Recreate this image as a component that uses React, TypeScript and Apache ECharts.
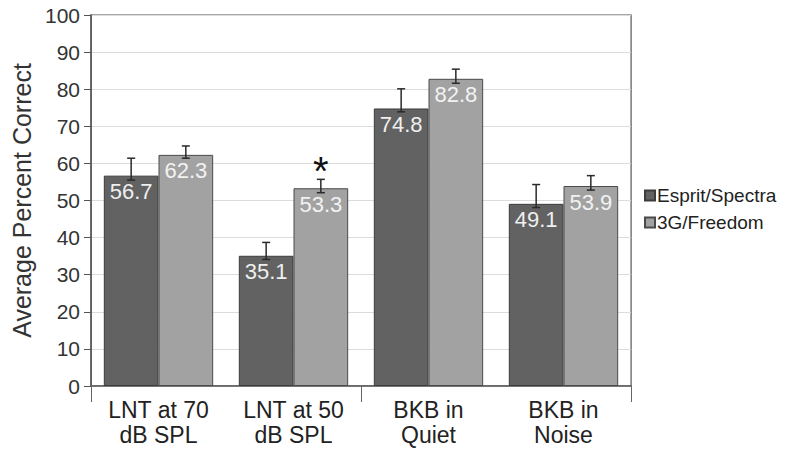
import React, { useEffect, useRef } from "react";
import * as echarts from "echarts";

const categories = ["LNT at 70\ndB SPL", "LNT at 50\ndB SPL", "BKB in\nQuiet", "BKB in\nNoise"];
const seriesNames = ["Esprit/Spectra", "3G/Freedom"];
const espritValues = [56.7, 35.1, 74.8, 49.1];
const freedomValues = [62.3, 53.3, 82.8, 53.9];
const espritErrLow = [55.5, 34.1, 73.9, 48.1];
const espritErrHigh = [61.4, 38.7, 80.1, 54.3];
const freedomErrLow = [61.4, 52.1, 81.6, 52.8];
const freedomErrHigh = [64.7, 55.7, 85.4, 56.7];
const freedomSignificant = [0, 1, 0, 0];
const yMin = 0;
const yMax = 100;
const yInterval = 10;

const FONT = "'Liberation Sans', Arial, sans-serif";
const GAP_RATIO = 0.19;

export default function App() {
  const ref = useRef<HTMLDivElement>(null);
  useEffect(() => {
    if (!ref.current) return;
    const chart = echarts.init(ref.current, undefined, { renderer: "svg" });
    const errData: number[][] = [];
    categories.forEach((_, i) => {
      errData.push([i, espritErrLow[i], espritErrHigh[i], 0, 0]);
      errData.push([i, freedomErrLow[i], freedomErrHigh[i], 1, freedomSignificant[i]]);
    });
    const option: any = {
      animation: false,
      backgroundColor: "#ffffff",
      textStyle: { fontFamily: FONT },
      grid: {
        left: 91,
        right: 157,
        top: 15,
        bottom: 65,
        show: true,
        borderColor: "#8a8a8a",
        borderWidth: 1.5,
      },
      legend: {
        orient: "vertical",
        left: 639,
        top: 181,
        data: seriesNames,
        icon: "rect",
        itemWidth: 10,
        itemHeight: 10,
        itemGap: 8,
        textStyle: { fontSize: 19, color: "#222", fontFamily: FONT, padding: [0, 0, 0, -3] },
      },
      xAxis: {
        type: "category",
        data: categories,
        axisLine: { lineStyle: { color: "#555", width: 1.5 } },
        axisTick: {
          show: true,
          interval: (i: number) => i === 0 || i === 2,
          length: 16,
          lineStyle: { color: "#666", width: 1 },
        },
        splitLine: {
          show: true,
          interval: (i: number) => i === 2,
          lineStyle: { color: "#8a8a8a", width: 1 },
        },
        axisLabel: {
          fontSize: 23,
          lineHeight: 25,
          margin: 11,
          color: "#222",
          fontFamily: FONT,
          interval: 0,
        },
      },
      yAxis: {
        type: "value",
        min: yMin,
        max: yMax,
        interval: yInterval,
        name: "Average Percent Correct",
        nameLocation: "middle",
        nameGap: 56,
        nameTextStyle: { fontSize: 25, color: "#333", fontFamily: FONT },
        axisLine: { show: true, lineStyle: { color: "#555", width: 1.5 } },
        axisTick: { show: true, length: 7, lineStyle: { color: "#555" } },
        axisLabel: { fontSize: 21, color: "#333", margin: 11, fontFamily: FONT },
        splitLine: { lineStyle: { color: "#dcdcdc", width: 1 } },
      },
      series: [
        {
          name: seriesNames[0],
          type: "bar",
          data: espritValues,
          barGap: "0%",
          barCategoryGap: GAP_RATIO * 100 + "%",
          itemStyle: { color: "#626262", borderColor: "#3c3c3c", borderWidth: 1 },
          label: {
            show: true,
            position: "insideTop",
            distance: 5,
            color: "#efefef",
            fontSize: 22,
            fontFamily: FONT,
          },
        },
        {
          name: seriesNames[1],
          type: "bar",
          data: freedomValues,
          barGap: "0%",
          barCategoryGap: GAP_RATIO * 100 + "%",
          itemStyle: { color: "#a2a2a2", borderColor: "#4a4a4a", borderWidth: 1 },
          label: {
            show: true,
            position: "insideTop",
            distance: 5,
            color: "#f2f2f2",
            fontSize: 22,
            fontFamily: FONT,
          },
        },
        {
          type: "custom",
          z: 10,
          data: errData,
          encode: { x: 0, y: [1, 2] },
          renderItem: (params: any, api: any) => {
            const ci = api.value(0);
            const lo = api.value(1);
            const hi = api.value(2);
            const side = api.value(3);
            const sig = api.value(4);
            const catW = api.size([1, 0])[0];
            const bw = (catW * (1 - GAP_RATIO)) / 2;
            const cx = api.coord([ci, 0])[0] + (side === 0 ? -bw / 2 : bw / 2);
            const yLo = api.coord([ci, lo])[1];
            const yHi = api.coord([ci, hi])[1];
            const cap = 4;
            const ls = { stroke: "#2a2a2a", lineWidth: 1.5 };
            const children: any[] = [
              { type: "line", shape: { x1: cx, y1: yLo, x2: cx, y2: yHi }, style: ls },
              { type: "line", shape: { x1: cx - cap, y1: yHi, x2: cx + cap, y2: yHi }, style: ls },
              { type: "line", shape: { x1: cx - cap, y1: yLo, x2: cx + cap, y2: yLo }, style: ls },
            ];
            if (sig) {
              children.push({
                type: "text",
                style: {
                  text: "*",
                  x: cx,
                  y: yHi - 8,
                  fontSize: 40,
                  fontFamily: FONT,
                  fill: "#111",
                  textAlign: "center",
                  textVerticalAlign: "middle",
                },
              });
            }
            return { type: "group", children };
          },
        },
      ],
    };
    chart.setOption(option);
    return () => chart.dispose();
  }, []);
  return (
    <div
      ref={ref}
      style={{ position: "fixed", left: 0, top: 0, width: 788, height: 451 }}
    />
  );
}
